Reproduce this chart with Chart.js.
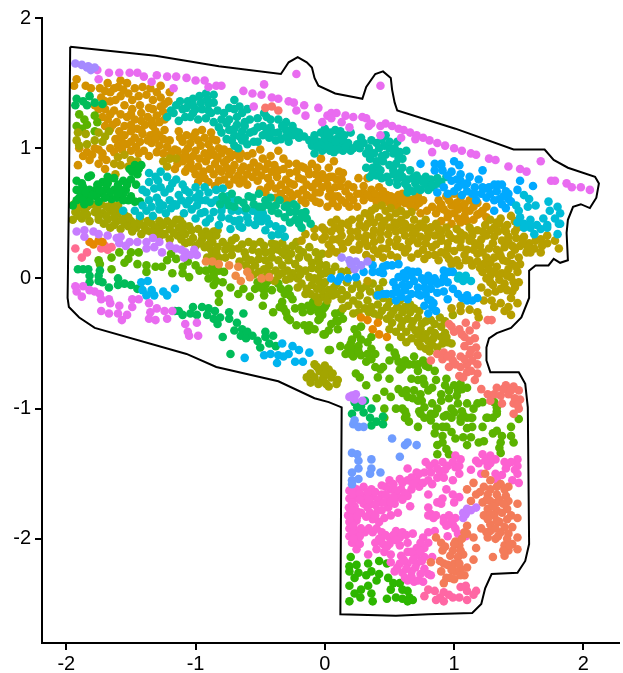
<!DOCTYPE html>
<html>
<head>
<meta charset="utf-8">
<title>clusters</title>
<style>
  body { margin: 0; background: #fff; }
  canvas { display: block; }
</style>
<script src="https://cdn.jsdelivr.net/npm/chart.js@4"></script>
</head>
<body>
<canvas id="myChart" width="623" height="673"></canvas>
<script>
var xTicks = [-2, -1, 0, 1, 2];
var yTicks = [-2, -1, 0, 1, 2];

// tissue outline
var outline = [[-1.97,1.78],[-1.31,1.71],[-.82,1.63],[-.34,1.57],[-.28,1.66],[-.21,1.7],[-.14,1.66],[-.1,1.62],[-.08,1.54],[-.05,1.48],[.08,1.42],[.24,1.39],[.29,1.38],[.32,1.47],[.39,1.57],[.45,1.59],[.51,1.54],[.52,1.45],[.54,1.35],[.56,1.29],[1.01,1.15],[1.46,.99],[1.7,.99],[1.77,.91],[1.88,.85],[2.09,.78],[2.12,.73],[2.1,.62],[2.05,.54],[1.98,.57],[1.92,.55],[1.88,.45],[1.87,.35],[1.88,.14],[1.82,.12],[1.77,.15],[1.73,.1],[1.63,.1],[1.58,.06],[1.58,-.15],[1.52,-.3],[1.44,-.38],[1.33,-.42],[1.27,-.46],[1.25,-.53],[1.25,-.63],[1.28,-.72],[1.4,-.72],[1.5,-.72],[1.55,-.81],[1.57,-.99],[1.58,-2.04],[1.55,-2.17],[1.49,-2.26],[1.29,-2.27],[1.24,-2.38],[1.21,-2.5],[1.14,-2.57],[.8,-2.58],[.55,-2.59],[.12,-2.58],[.13,-.99],[.03,-.95],[-.08,-.92],[-.36,-.79],[-.84,-.68],[-1.07,-.58],[-1.78,-.38],[-1.9,-.3],[-1.98,-.22],[-1.99,-.15],[-1.98,.6],[-1.97,1.78]];

var gold = [[-1.92,1.53],[-1.94,1.48],[-1.85,1.48],[-1.81,1.46],[-1.74,1.46],[-1.68,1.5],[-1.66,1.43],[-1.6,1.47],[-1.58,1.52],[-1.53,1.5],[-1.73,1.39],[-1.66,1.36],[-1.58,1.4],[-1.52,1.42],[-1.47,1.46],[-1.41,1.47],[-1.35,1.46],[-1.3,1.43],[-1.27,1.48],[-1.44,1.4],[-1.38,1.41],[-1.33,1.37],[-1.27,1.39],[-1.2,1.43],[-1.78,1.33],[-1.7,1.3],[-1.63,1.29],[-1.55,1.33],[-1.49,1.3],[-1.43,1.33],[-1.36,1.31],[-1.27,1.32],[-1.21,1.36],[-1.68,1.22],[-1.61,1.2],[-1.53,1.24],[-1.47,1.22],[-1.37,1.24],[-1.3,1.25],[-1.25,1.28],[-1.66,1.15],[-1.59,1.13],[-1.55,1.17],[-1.45,1.15],[-1.39,1.18],[-1.33,1.17],[-1.28,1.2],[-1.24,1.22],[-1.62,1.07],[-1.55,1.1],[-1.47,1.08],[-1.41,1.11],[-1.35,1.1],[-1.28,1.1],[-1.24,1.14],[-1.84,.97],[-1.78,1.0],[-1.72,.96],[-1.66,1.0],[-1.6,1.02],[-1.53,1.03],[-1.46,1.01],[-1.4,.98],[-1.34,1.04],[-1.28,1.02],[-1.22,1.01],[-1.16,.99],[-1.9,1.0],[-1.91,.87],[-1.82,.91],[-1.75,.88],[-1.7,.84],[-1.72,.93],
[-1.13,1.13],[-1.07,1.1],[-1.0,1.12],[-.95,1.14],[-.88,1.12],[-.84,1.06],[-1.1,1.05],[-1.04,1.04],[-.98,1.06],[-.9,1.03],[-.82,1.0],[-1.14,.98],[-1.08,.97],[-1.0,.98],[-.93,.96],[-.86,.95],[-.8,.96],[-.73,.93],[-.66,.92],[-.6,.94],[-.56,.96],[-.5,.99],[-1.16,.84],[-1.1,.9],[-1.04,.89],[-.98,.86],[-.92,.9],[-.85,.88],[-.78,.89],[-.7,.87],[-.63,.86],[-.55,.89],[-.48,.92],[-.42,.94],[-.36,.98],[-.32,.92],[-1.08,.82],[-1.0,.8],[-.94,.82],[-.86,.8],[-.8,.82],[-.74,.8],[-.67,.79],[-.6,.8],[-.53,.82],[-.46,.84],[-.39,.87],[-.32,.84],[-.28,.88],[-.98,.74],[-.9,.74],[-.82,.75],[-.74,.72],[-.66,.73],[-.6,.72],[-.52,.75],[-.44,.77],[-.37,.78],[-.3,.76],[-.22,.82],[-.17,.76],[-.12,.8],[-.05,.75],[-.5,.68],[-.44,.7],[-.38,.69],[-.3,.68],[-.24,.72],[-.17,.68],[-.1,.7],[-.04,.66],[-.38,.62],[-.31,.61],[-.25,.63],[-.18,.6],[-.1,.62],[-.04,.58],
[-.22,.88],[-.16,.85],[-.1,.88],[-.03,.92],[-.06,.85],[-.02,.8],[.03,.85],[.07,.9],[.06,.78],[.11,.82],[.02,.72],[.08,.7],[.13,.76],[.18,.72],[.03,.63],[.1,.63],[.16,.67],[.22,.7],[.02,.55],[.1,.55],[.16,.58],[.22,.6],[.28,.65],[.3,.71],[.33,.77],[.14,.81],[.26,.77],[.3,.66],[.36,.68],[.42,.7],[.36,.62],[.42,.63],[.48,.64],[.54,.62],[.6,.65],[.66,.6],[.72,.63],[.76,.6],[.5,.58],[.56,.56],[.62,.58],[.7,.55],[.3,.6],[.25,.55],[.83,.55],[.88,.6],[.94,.63],[1.0,.65],[1.05,.62],[.86,.5],[.92,.53],[.98,.56],[1.05,.55],[1.12,.6],[1.18,.58],[1.25,.55],[.95,.47],[1.0,.5],[1.08,.48],[1.12,.52],[1.2,.5],[.98,.42],[1.05,.43],[1.15,.45],[1.25,.47],[.9,.44],[.79,.52],[.74,.5],
[-1.7,1.44],[-1.63,1.46],[-1.56,1.45],[-1.49,1.37],[-1.62,1.37],[-1.7,1.36],[-1.75,1.3],[-1.66,1.26],[-1.58,1.26],[-1.5,1.26],[-1.42,1.27],[-1.33,1.3],[-1.24,1.34],[-1.72,1.24],[-1.64,1.18],[-1.5,1.18],[-1.42,1.21],[-1.34,1.21],[-1.7,1.17],[-1.58,1.08],[-1.5,1.13],[-1.42,1.14],[-1.31,1.13],[-1.56,1.04],[-1.5,1.05],[-1.43,1.05],[-1.37,1.06],[-1.31,1.07],[-1.25,1.07],[-1.2,1.06],[-1.87,.94],[-1.8,.95],[-1.75,.99],[-1.69,.91],[-1.63,.97],[-1.57,.99],[-1.5,.98],[-1.44,.96],[-1.36,.94],[-1.3,.97],[-1.25,.96],[-1.19,.96],[-1.12,.93],[-1.07,.93],[-1.02,.94],[-.97,.92],[-.9,.94],[-.83,.92],[-.76,.91],[-.7,.95],[-.65,.96],[-1.06,1.0],[-.96,1.02],[-.88,.99],[-.78,.99],[-.74,.97],[-1.12,1.08],[-.93,1.08],[-.87,1.07],[-1.02,1.09],[-1.14,.88],[-1.06,.85],[-1.02,.84],[-.96,.78],[-.89,.84],[-.82,.84],[-.76,.85],[-.72,.83],[-.65,.83],[-.58,.85],[-.51,.86],[-.44,.88],[-.41,.82],[-.36,.83],[-.27,.81],[-.93,.77],[-.85,.71],[-.78,.76],[-.7,.76],[-.63,.76],[-.56,.78],[-.49,.79],[-.42,.73],[-.34,.72],[-.27,.73],[-.2,.77],[-.14,.72],[-.07,.73],[-.46,.66],[-.34,.65],[-.27,.66],[-.21,.65],[-.14,.64],[-.07,.66],[-.02,.7],[-.28,.59],[-.15,.58],[-.07,.59],[-.18,.86],[-.13,.83],[-.07,.8],[0,.77],[.04,.78],[.09,.76],[.04,.68],[.12,.71],[.07,.63],[.13,.6],[.19,.63],[.25,.65],[.06,.58],[.19,.55],[.33,.64],[.39,.65],[.45,.67],[.51,.63],[.57,.64],[.63,.62],[.69,.61],[.4,.59],[.46,.6],[.53,.59],[.59,.6],[.66,.56],[.73,.58],[.9,.57],[.96,.6],[1.02,.58],[1.08,.57],[.89,.54],[.95,.5],[1.03,.53],[1.09,.52],[1.15,.55],[1.03,.46],[1.1,.44],[1.18,.49],[1.22,.52]];

var teal = [[-1.22,1.24],[-1.17,1.27],[-1.13,1.21],[-1.12,1.36],[-1.1,1.3],[-1.06,1.36],[-1.02,1.38],[-.97,1.4],[-.92,1.42],[-.86,1.41],[-1.0,1.3],[-1.04,1.24],[-.98,1.22],[-.95,1.3],[-.9,1.34],[-.86,1.35],[-.83,1.29],[-.88,1.27],[-.92,1.23],[-.86,1.2],[-.8,1.22],[-.74,1.22],[-.7,1.3],[-.7,1.37],[-.66,1.32],[-.64,1.27],[-.6,1.3],[-.58,1.22],[-.68,1.18],[-.74,1.14],[-.8,1.12],[-.76,1.07],[-.7,1.1],[-.64,1.13],[-.58,1.12],[-.7,1.02],[-.64,1.06],[-.6,1.03],[-.55,1.13],[-.55,1.05],[-.52,1.23],[-.47,1.27],[-.42,1.22],[-.48,1.17],[-.42,1.16],[-.36,1.22],[-.3,1.2],[-.36,1.12],[-.3,1.14],[-.25,1.17],[-.2,1.12],[-.16,1.09],[-.48,1.1],[-.43,1.08],[-.38,1.06],[-.34,1.07],[-.25,1.1],[-.2,1.08],[-.52,1.05],[-.28,1.05],[-.12,1.06],[-.08,1.1],[-.03,1.12],[-.1,1.02],[-.05,1.05],[0,1.06],[-.08,.96],[-.02,.98],[.03,1.0],[0,1.15],[.04,1.12],[.08,1.14],[.12,1.13],[0,1.08],[.05,1.07],[.1,1.08],[.15,1.1],[.2,1.12],[.02,1.02],[.06,1.02],[.12,1.03],[.18,1.04],[.07,.97],[.14,.98],[.2,.98],[.25,1.03],[.28,1.08],[.34,1.0],[.3,1.04],[.36,1.06],[.4,1.04],[.46,1.02],[.47,1.1],[.42,1.0],[.5,1.0],[.56,1.05],[.47,.95],[.53,.96],[.58,.97],[.6,.92],[.63,.98],[.35,.92],[.4,.9],[.37,.85],[.5,.87],[.55,.88],[.6,.85],[.32,.85],[.35,.78],[.4,.79],[.44,.77],[.48,.78],[.53,.8],[.56,.76],[.6,.78],[.66,.83],[.64,.76],[.64,.7],[.7,.73],[.74,.76],[.78,.78],[.68,.67],[.74,.68],[.78,.72],[.82,.76],[.87,.77],[.9,.74],[.84,.7],[.8,.68],[.94,.78],
[-1.19,1.29],[-1.15,1.33],[-1.07,1.31],[-1.02,1.33],[-.96,1.35],[-.91,1.38],[-1.08,1.24],[-1.02,1.27],[-.9,1.29],[-.78,1.27],[-.74,1.31],[-.68,1.24],[-.62,1.2],[-.76,1.19],[-.82,1.16],[-.7,1.15],[-.66,1.09],[-.62,1.08],[-.72,1.06],[-.67,1.0],[-.62,1.17],[-.45,1.24],[-.52,1.16],[-.4,1.12],[-.33,1.17],[-.27,1.13],[-.45,1.13],[-.3,1.09],[-.23,1.13],[-.08,1.06],[-.03,1.02],[-.06,1.01],[.02,1.11],[.08,1.05],[.14,1.06],[.04,.98],[.1,.99],[.16,1.01],[.22,1.0],[.27,1.0],[.32,.96],[.38,.96],[.44,.94],[.44,1.07],[.5,1.05],[.54,1.0],[.57,.92],[.41,.85],[.45,.9],[.53,.83],[.58,.81],[.43,.83],[.37,.81],[.5,.74],[.56,.72],[.62,.73],[.68,.77],[.72,.69],[.76,.74],[.83,.72],[.88,.73],[.71,.79],[.64,.66]];

var cyan = [[-1.36,.81],[-1.27,.82],[-1.29,.75],[-1.18,.73],[-1.1,.72],[-1.41,.68],[-1.32,.69],[-1.24,.66],[-1.13,.64],[-1.05,.66],[-.97,.65],[-.9,.66],[-.79,.69],[-1.36,.6],[-1.25,.56],[-1.16,.57],[-1.07,.57],[-1.43,.48],[-1.38,.52],[-1.47,.52],[-1.33,.48],[-1.23,.5],[-1.15,.56],[-1.09,.5],[-1.0,.46],[-.99,.56],[-.93,.51],[-.92,.43],[-.86,.51],[-.82,.41],[-.74,.46],[-.73,.38],[-.64,.39],[-.54,.41],[-.67,.52],[-.56,.52],[-.46,.37],[-.41,.33],[-.36,.34],[-.31,.32],[-.48,.5],[-.43,.42],[-1.56,.52],[-1.05,.6],[-.96,.6],[-.88,.58],[-.78,.56],[-.8,.62],[-.7,.6],[-.72,.52],[-1.3,.62],[-1.2,.6],[-1.34,.55],[-1.41,.56],[-.6,.47],[-.66,.45],[-.52,.46],[-.8,.47],
[-1.31,.78],[-1.22,.78],[-1.15,.76],[-1.36,.74],[-1.38,.66],[-1.27,.7],[-1.2,.69],[-1.08,.68],[-1.0,.7],[-.93,.7],[-.84,.68],[-1.28,.58],[-1.11,.6],[-1.0,.62],[-.92,.6],[-.84,.6],[-.75,.63],[-1.28,.53],[-1.19,.54],[-1.03,.53],[-.96,.5],[-.89,.46],[-.8,.52],[-.66,.4],[-.59,.43],[-.7,.44],[-.49,.44],[-.45,.46],[-.38,.4],[-.33,.38],[-.62,.52],[-.52,.5]];

var tealGreen = [[-.79,.63],[-.72,.65],[-.67,.6],[-.59,.63],[-.51,.65],[-.46,.6],[-.55,.57],[-.38,.56],[-.29,.56],[-.22,.55],[-.81,.57],[-.74,.56],[-.41,.52],[-.31,.47],[-.31,.55],[-.23,.51],[-.23,.45],[-.15,.51],[-.18,.39],[-.11,.42],[-.19,.46],[-.51,.55],[-.61,.54],[-.43,.56],[-.36,.5],[-.76,.6],[-.7,.55],[-.63,.58],[-.56,.62],[-.48,.55],[-.42,.62],[-.35,.6],[-.27,.51],[-.24,.57],[-.18,.5],[-.27,.43],[-.14,.46],[-.2,.42]];

var green = [[-1.42,.87],[-1.45,.8],[-1.51,.84],[-1.81,.79],[-1.83,.78],[-1.92,.75],[-1.56,.75],[-1.63,.77],[-1.68,.78],[-1.72,.74],[-1.76,.72],[-1.87,.7],[-1.92,.68],[-1.82,.68],[-1.69,.69],[-1.63,.68],[-1.54,.68],[-1.5,.63],[-1.43,.59],[-1.56,.65],[-1.72,.65],[-1.84,.63],[-1.77,.63],[-1.92,.6],[-1.82,.59],[-1.65,.61],[-1.47,.59],[-1.95,.56],[-1.47,.87],[-1.49,.82],[-1.88,.65],[-1.61,.62],[-1.52,.6],[-1.77,.68],[-1.88,.73],[-1.85,.66],[-1.9,.62],[-1.8,.64],[-1.74,.68],[-1.68,.73],[-1.6,.72],[-1.58,.68],[-1.66,.66],[-1.7,.62],[-1.6,.65],[-1.53,.72],[-1.5,.76],[-1.46,.72],[-1.44,.84],[-1.87,.6],[-1.75,.59],[-1.56,.6],[-1.86,.57]];

var oliveLeft = [[-1.94,.57],[-1.88,.57],[-1.8,.57],[-1.73,.57],[-1.65,.57],[-1.6,.56],[-1.93,.51],[-1.86,.52],[-1.78,.51],[-1.72,.5],[-1.66,.52],[-1.6,.5],[-1.54,.48],[-1.95,.45],[-1.88,.46],[-1.82,.44],[-1.75,.45],[-1.68,.45],[-1.61,.44],[-1.55,.42],[-1.5,.44],[-1.43,.46],[-1.66,.39],[-1.58,.38],[-1.52,.4],[-1.46,.39],[-1.4,.4],[-1.34,.42],[-1.28,.44],[-1.22,.44],[-1.15,.45],[-1.1,.42],[-1.42,.34],[-1.35,.36],[-1.28,.38],[-1.2,.38],[-1.13,.39],[-1.05,.4],[-.98,.38],[-.92,.36],[-.86,.36],[-1.28,.32],[-1.2,.3],[-1.14,.33],[-1.08,.34],[-1.02,.31],[-.95,.3],[-.88,.3],[-.84,.33],[-1.08,.27],[-1.0,.25],[-.93,.24],[-.88,.22],[-.87,.28],[-.79,.28],[-.69,.31],[-.59,.28],[-.5,.28],[-.41,.27],[-.33,.27],[-.87,.19],[-.77,.22],[-.67,.23],[-.56,.22],[-.46,.2],[-.36,.22],[-.25,.25],[-.91,.16],[-.82,.16],[-.72,.18],[-.61,.16],[-.51,.15],[-.41,.16],[-.31,.18],[-.2,.22],[-.61,.1],[-.54,.1],[-.43,.1],[-.33,.1],[-.23,.11],[-.13,.16],[-.05,.15],[-.51,.05],[-.36,.02],[-.25,.04],[-.15,.06],[-.05,.07],[.01,.09],[-.18,-.04],[-.1,-.05],[-.01,-.04],[-.15,-.12],[-.02,-.14],[.03,-.09],[-.08,0],[0,.04],[-.43,.04],[-.3,-.01],[-.21,0],
[-.04,.11],[.01,.1],[.08,.09],[.18,.06],[-.04,-.03],[-.02,-.09],[.07,-.07],[.13,-.09],[.21,-.08],[.28,-.08],[.37,-.04],[.45,-.03],[.03,-.13],[.13,-.16],[.22,-.17],[.33,-.17],[.22,-.27],[.14,-.23],[.31,-.23],[.44,-.25],[.53,-.25],[.62,-.22],[.69,-.23],[.48,-.31],[.57,-.3],[.64,-.31],[.72,-.3],[.5,-.39],[.59,-.37],[.67,-.37],[.75,-.35],[.82,-.32],[.89,-.3],[.99,-.28],[.72,-.43],[.82,-.4],[.9,-.37],[.63,-.49],[.72,-.49],[.8,-.48],[.9,-.45],[.98,-.5],[.78,-.54],[.87,-.53],[.95,-.49],[.66,-.2],[.59,-.45],[.4,-.13],[.5,-.18],[.58,-.17],[.38,-.27],
[-.04,-.71],[.03,-.7],[-.01,-.76],[.05,-.76],[.1,-.78],[.01,-.81],[.09,-.81],[-.08,-.66],[-.11,-.73],[-.04,-.71],[-.11,-.8],[-.02,-.78],[0,-.73],[-.06,-.68],[0,-.67],[-.08,-.76],[-.05,-.81],[.06,-.73],[.03,-.83],[-.14,-.76],
[-1.91,1.12],[-1.92,1.06],[-1.85,1.11],[-1.84,1.03],[-1.78,1.06],[-1.75,1.12],[-1.7,1.09],[-1.67,1.13],[-1.9,1.02],[-1.72,1.05],
[-1.91,.54],[-1.84,.55],[-1.76,.54],[-1.69,.55],[-1.63,.53],[-1.9,.48],[-1.84,.49],[-1.75,.48],[-1.69,.48],[-1.63,.47],[-1.57,.45],[-1.52,.47],[-1.47,.42],[-1.71,.42],[-1.63,.41],[-1.43,.42],[-1.37,.44],[-1.31,.39],[-1.25,.41],[-1.18,.42],[-1.12,.45],[-1.49,.36],[-1.38,.37],[-1.32,.35],[-1.24,.34],[-1.17,.35],[-1.1,.37],[-1.03,.37],[-.95,.34],[-.9,.33],[-.83,.37],[-1.11,.3],[-1.05,.28],[-.97,.27],[-.9,.26],[-.83,.24],[-.76,.25],[-.72,.29],[-.64,.26],[-.55,.26],[-.47,.25],[-.38,.26],[-.3,.23],[-.22,.28],[-.84,.2],[-.72,.23],[-.62,.2],[-.51,.2],[-.41,.21],[-.33,.2],[-.26,.19],[-.17,.2],[-.12,.24],[-.07,.2],[-.87,.14],[-.77,.16],[-.66,.13],[-.57,.14],[-.46,.14],[-.36,.14],[-.28,.14],[-.2,.16],[-.1,.12],[-.02,.19],[-.58,.07],[-.47,.07],[-.38,.06],[-.29,.06],[-.2,.07],[-.1,.08],[-.03,.03],[-.55,.03],[-.46,.01],[-.39,-.02],[-.33,.04],[-.27,0],[-.19,.03],[-.12,.01],[-.05,-.01],[-.21,-.07],[-.14,-.08],[-.06,-.08],[0,-.03],[-.11,-.12],[-.07,-.14],[-.05,-.18],[.02,-.17],[.06,-.13],[.09,-.04],[.13,.05],[.05,.05],[.17,-.03],[.25,-.04],[.32,-.06],[.42,-.08],[.09,-.12],[.17,-.13],[.27,-.13],[.35,-.1],[.45,-.15],[.18,-.21],[.26,-.2],[.36,-.22],[.41,-.2],[.48,-.22],[.56,-.22],[.26,-.26],[.34,-.26],[.42,-.29],[.51,-.28],[.6,-.26],[.66,-.26],[.73,-.25],[.52,-.34],[.6,-.33],[.68,-.33],[.74,-.39],[.78,-.33],[.85,-.35],[.93,-.33],[.55,-.41],[.63,-.41],[.7,-.4],[.78,-.43],[.85,-.42],[.93,-.42],[.67,-.46],[.76,-.46],[.84,-.46],[.94,-.45],[.74,-.52],[.83,-.51],[.91,-.5],[.81,-.56]];

var oliveDark = [[.44,.56],[.36,.52],[.51,.54],[.59,.52],[.67,.51],[.31,.5],[.21,.45],[.05,.43],[.13,.42],[.42,.47],[.5,.47],[.59,.45],[.69,.45],[.78,.45],[.33,.42],[.44,.39],[.54,.39],[.64,.39],[.72,.39],[.82,.39],[1.28,.45],[1.36,.46],[1.44,.48],[1.41,.41],[1.31,.39],[1.49,.39],[-.02,.39],[.08,.39],[.18,.41],[.31,.39],[.44,.41],[.57,.42],[.67,.39],[.82,.39],[1.18,.37],[1.28,.37],[1.39,.38],[0,.32],[.13,.33],[.26,.32],[.37,.33],[.49,.34],[.62,.33],[.74,.32],[.85,.33],[.96,.34],[1.08,.33],[1.21,.3],[1.31,.32],[1.42,.32],[1.54,.32],[1.67,.3],[.05,.23],[.13,.27],[.22,.22],[.33,.25],[.44,.23],[.59,.24],[.72,.27],[.83,.24],[.95,.27],[1.05,.24],[1.16,.27],[1.27,.23],[1.39,.24],[1.51,.25],[1.62,.23],[1.72,.27],[1.81,.23],[.03,.19],[.32,.18],[.41,.19],[.51,.18],[.67,.16],[.77,.15],[.85,.18],[.96,.15],[1.08,.18],[1.18,.19],[1.31,.16],[1.44,.18],[1.59,.2],[1.67,.2],[.98,.11],[1.14,.1],[1.23,.11],[1.33,.09],[1.45,.11],[1.51,.11],[1.28,.02],[1.37,.04],[1.49,.05],[1.22,.05],[.33,-.02],[1.21,-.07],[1.3,-.05],[1.39,-.04],[1.46,-.03],[1.5,-.03],[1.32,-.1],[1.45,-.1],[1.23,-.17],[1.31,-.22],[1.39,-.25],[1.44,-.28],[1.49,-.19],[1.42,-.22],[.98,-.23],[1.05,-.21],[1.05,-.25],[1.12,-.24],[1.18,-.26],[1.19,-.3],[-.15,.34],[-.08,.32],[0,.37],[-.18,.29],[-.02,.3],[-.08,.38],
[.06,.3],[.2,.36],[.32,.33],[.43,.35],[.55,.36],[.68,.34],[.8,.35],[.9,.36],[1.02,.38],[1.12,.39],[1.24,.41],[1.35,.42],[1.47,.44],[1.02,.3],[1.14,.33],[1.25,.33],[1.37,.29],[1.48,.31],[1.58,.27],[.18,.28],[.27,.26],[.38,.28],[.5,.28],[.65,.28],[.78,.27],[.9,.29],[1.0,.21],[1.1,.22],[1.22,.2],[1.35,.2],[1.47,.22],[1.56,.2],[.09,.2],[.9,.2],[1.02,.14],[1.28,.12],[1.38,.14],[1.12,.14],[1.27,.07],[1.42,.07],[1.35,-.01],[1.25,0],[1.44,.01],
[.39,.54],[.47,.52],[.55,.5],[.63,.49],[.35,.47],[.27,.46],[.18,.43],[.09,.45],[.46,.44],[.54,.43],[.62,.42],[.74,.42],[.86,.42],[.27,.41],[.38,.43],[.12,.37],[.05,.36],[.25,.36],[.38,.37],[.5,.39],[.6,.37],[.7,.35],[.77,.39],[.88,.38],[.94,.39],[1.33,.43],[1.4,.36],[1.47,.36],[1.34,.36],[1.22,.36],[1.14,.36],[1.05,.35],[.98,.31],[.9,.32],[.79,.31],[.68,.3],[.56,.3],[.43,.3],[.31,.29],[.2,.31],[.1,.3],[.03,.26],[.14,.23],[.26,.22],[.38,.22],[.48,.23],[.55,.25],[.64,.23],[.76,.22],[.86,.26],[.95,.23],[1.05,.29],[1.12,.29],[1.2,.25],[1.3,.27],[1.42,.28],[1.53,.28],[1.63,.29],[1.72,.33],[1.78,.29],[1.68,.25],[1.57,.24],[1.45,.25],[1.33,.22],[1.15,.22],[.36,.15],[.45,.16],[.56,.16],[.62,.2],[.72,.19],[.8,.18],[.88,.14],[.94,.18],[1.04,.1],[1.09,.14],[1.18,.13],[1.25,.16],[1.36,.17],[1.41,.13],[1.5,.16],[1.48,.09],[1.2,.08],[1.31,.05],[1.41,.02],[1.34,.03],[1.28,-.03],[1.36,-.08],[1.41,-.09],[1.26,-.11],[1.47,-.07],[1.29,-.17],[1.36,-.19],[1.44,-.15]];

var lime = [[-1.59,.2],[-1.65,.16],[-1.5,.2],[-1.52,.15],[-1.55,.12],[-1.44,.2],[-1.75,.14],[-1.74,.11],[-1.65,.07],[-1.45,.11],[-1.38,.1],[-1.38,.05],[-1.31,.09],[-1.26,.09],[-1.22,.14],[-1.19,.19],[-1.15,.15],[-1.18,.04],[-1.1,.04],[-1.1,.09],[-1.06,.13],[-1.05,.01],[-1.0,.1],[-.97,.06],[-.92,.06],[-.87,.06],[-.9,0],[-.86,-.05],[-.79,-.03],[-.82,.06],[-.82,-.12],[-.82,-.18],[-.73,-.07],[-.67,-.12],[-.63,-.08],[-.58,-.14],[-.54,-.08],[-.52,-.03],[-.46,-.05],[-.47,-.13],[-.41,-.09],[-.34,-.08],[-.28,-.08],[-.25,-.16],[-.33,-.18],[-.4,-.26],[-.32,-.23],[-.29,-.3],[-.27,-.32],[-.48,-.21],[-.23,-.23],[-.18,-.22],[-.11,-.25],[-.09,-.18],[0,-.22],[-.05,-.32],[-.02,-.28],[-.22,-.36],[-.16,-.36],[-.13,-.4],[-.08,-.39],[0,-.43],[.03,-.55],
[.01,-.2],[-.01,-.23],[-.04,-.31],[.12,-.26],[.09,-.32],[.14,-.31],[.1,-.39],[.03,-.4],[-.01,-.43],[.23,-.39],[.28,-.37],[.21,-.47],[.28,-.47],[.36,-.45],[.12,-.52],[.04,-.55],[.18,-.53],[.23,-.54],[.16,-.58],[.28,-.59],[.22,-.6],[.36,-.54],[.39,-.58],[.32,-.64],[.39,-.68],[.5,-.53],[.54,-.57],[.5,-.63],[.45,-.68],[.57,-.64],[.62,-.63],[.6,-.68],[.69,-.6],[.69,-.66],[.76,-.63],[.8,-.68],[.85,-.71],[.72,-.71],[.67,-.77],[.77,-.81],[.86,-.78],[.83,-.84],[.94,-.77],[.5,-.77],[.41,-.76],[.27,-.76],[.24,-.73],[.32,-.82],[.57,-.85],[.46,-.87],[.51,-.91],[.4,-.92],[.63,-.86],[.69,-.86],[.74,-.89],[.64,-.91],[.72,-.94],[.46,-1.0],[.55,-1.0],[.62,-1.02],[.77,-.99],[.83,-.96],[.9,-.89],[.96,-.86],[1.0,-.82],[1.05,-.81],[1.1,-.84],[1.03,-.86],[.9,-.94],[.98,-1.0],[1.03,-.96],[1.1,-.96],[1.18,-.96],[1.22,-.95],[1.31,-.95],[1.33,-1.02],[1.26,-1.07],[1.5,-1.08],[.74,-1.04],[.82,-1.04],[.94,-1.05],[1.05,-1.07],[1.13,-1.07],[.46,-1.07],[.62,-1.07],
[.6,-1.0],[.63,-1.05],[.65,-1.1],[.72,-1.14],[.73,-1.02],[.77,-1.07],[.85,-1.04],[.82,-1.09],[.86,-1.14],[.85,-1.19],[.91,-1.21],[.94,-1.14],[1.05,-1.1],[.91,-1.26],[.87,-1.28],[1.01,-1.23],[1.07,-1.22],[1.13,-1.22],[1.1,-1.28],[.94,-1.31],[.87,-1.35],[.96,-1.35],[1.19,-1.26],[1.23,-1.25],[1.3,-1.19],[1.33,-1.17],[1.37,-1.21],[1.44,-1.21],[1.46,-1.26],[1.36,-1.26],[1.35,-1.3],[1.36,-1.34],[1.44,-1.14],[1.33,-1.04],[1.33,-.99],[1.14,-1.07],[1.14,-1.14],[1.1,-1.07],[1.25,-1.07],[1.07,-1.05],
[-1.9,1.26],[-1.86,1.22],[-1.92,1.17],[-1.84,1.18],[-1.78,1.25],[-1.76,1.2],[-1.78,1.13],[-1.88,1.15],
[-.86,.02],[-.84,-.02],[-.87,.09],[-.78,.05],[-.47,-.09],[-.44,-.02],[-.5,-.07],[-.36,-.04],[-.31,-.12],[-.27,-.13],[-.35,-.22],[-.3,-.26],[-.17,-.26],[-.13,-.21],[-.07,-.22],[-.05,-.26],[-.12,-.36],[.05,-.35],[.08,-.27],[.1,-.33],[.25,-.43],[.2,-.5],[.26,-.52],[.2,-.58],[.26,-.56],[.33,-.49],[.33,-.58],[.36,-.62],[.43,-.7],[.55,-.6],[.58,-.7],[.65,-.66],[.72,-.66],[.78,-.67],[.72,-.78],[.76,-.77],[.6,-.88],[.68,-.92],[.75,-.94],[.8,-.86],[.93,-.82],[.96,-.92],[1.02,-.9],[1.06,-.85],[1.0,-1.03],[1.06,-1.02],[1.15,-1.0],[.87,-1.0],[.92,-1.06],[.98,-1.07],[.98,-1.18],[1.1,-1.15],[.91,-1.14],[1.22,-1.14],[1.3,-1.07]];

var blue = [[.05,0],[.12,.01],[.18,0],[.24,.01],[.3,.05],[.37,.1],[.42,.05],[.37,.05],[.48,.1],[.57,.11],[.64,.06],[.57,.01],[.72,.05],[.8,.02],[.85,0],[.92,.01],[.92,.06],[.99,.05],[.69,-.02],[.62,0],[.82,-.03],[.9,-.03],[.41,-.13],[.48,-.12],[.55,-.07],[.62,-.09],[.72,-.12],[.82,-.08],[.87,-.11],[.99,-.08],[1.03,-.12],[.55,-.17],[.64,-.16],[.74,-.13],[.82,-.17],[.95,-.16],[1.1,-.13],[1.1,-.17],[1.18,-.15],[.77,-.21],[.83,-.22],[.8,-.27],[.86,-.25],[.53,-.03],[.77,-.02],[.72,-.07],[.59,-.14],[.96,.05],[.67,.02],
[.74,.88],[.85,.88],[.9,.87],[.85,.83],[.91,.83],[1.0,.9],[1.04,.87],[.98,.82],[1.05,.8],[1.22,.83],[.98,.75],[1.05,.75],[1.12,.78],[1.19,.76],[.92,.7],[.87,.66],[.95,.65],[1.03,.7],[1.1,.73],[1.16,.7],[1.1,.67],[1.21,.65],[1.17,.6],[1.24,.69],[1.31,.72],[1.37,.72],[1.28,.65],[1.33,.67],[1.4,.67],[1.35,.61],[1.42,.61],[1.31,.52],[1.4,.54],[1.49,.68],[1.51,.75],[1.61,.71],[1.44,.59],[1.37,.57],
[.1,-.02],[.45,.09],[.52,.1],[.45,.04],[.61,.04],[.68,.05],[.75,0],[.6,-.05],[.65,-.05],[.77,-.07],[.87,-.04],[.95,-.03],[.45,-.12],[.52,-.12],[.57,-.11],[.67,-.12],[.78,-.12],[.92,-.1],[.8,-.16],[1.06,-.15],[1.14,-.17],[.84,-.19],[.9,.88],[.95,.79],[1.02,.76],[1.08,.72],[1.0,.67],[1.06,.64],[1.14,.65],[1.22,.7],[1.27,.7],[1.34,.72],[1.31,.6],[1.25,.62],[1.38,.63],[1.42,.65],[1.16,.65]];

var sky = [[-1.42,-.03],[-1.37,-.02],[-1.41,-.09],[-1.34,-.09],[-1.32,-.13],[-1.38,-.13],[-1.25,-.1],[-1.22,-.13],[-1.16,-.08],[-.62,-.61],[-.47,-.59],[-.42,-.58],[-.33,-.5],[-.25,-.52],[-.2,-.55],[-.12,-.57],[-.37,-.65],[-.32,-.6],[-.28,-.58],[-.23,-.64],[-.17,-.64],[-.36,-.59]];

var cyanRight = [[1.48,.56],[1.54,.64],[1.58,.61],[1.63,.56],[1.5,.52],[1.57,.55],[1.51,.47],[1.59,.45],[1.54,.42],[1.64,.41],[1.72,.41],[1.73,.59],[1.8,.55],[1.82,.5],[1.74,.52],[1.78,.46],[1.82,.42],[1.59,.39],[1.69,.46],[1.49,.43],[1.59,.41],[1.67,.38],[1.62,.34],[1.72,.39],[1.8,.34],[1.54,.39],[1.81,.42],[1.04,.02],[1.09,.02],[1.07,-.02],[1.13,-.02],[1.03,0]];

var green2 = [[-1.91,.07],[-1.87,.07],[-1.83,.07],[-1.82,.02],[-1.74,.06],[-1.75,.02],[-1.82,-.03],[-1.75,-.02],[-1.72,-.03],[-1.67,-.07],[-1.6,0],[-1.6,-.05],[-1.55,-.04],[-1.5,-.05],[-1.45,-.08],[-1.13,-.25],[-1.1,-.28],[-1.16,-.25],[-1.02,-.22],[-1.04,-.27],[-.99,-.28],[-.95,-.22],[-.9,-.23],[-.85,-.25],[-.91,-.28],[-.86,-.31],[-.81,-.3],[-.83,-.35],[-.74,-.26],[-.74,-.31],[-.63,-.27],[-.79,-.45],[-.7,-.4],[-.68,-.34],[-.64,-.39],[-.65,-.44],[-.6,-.41],[-.61,-.46],[-.56,-.44],[-.52,-.48],[-.46,-.41],[-.4,-.44],[-.5,-.53],[-.43,-.5],[-.38,-.52],[-.46,-.45],[-.73,-.58],
[.21,-1.04],[.25,-.99],[.28,-.98],[.3,-1.03],[.36,-1],[.35,-1.07],[.36,-1.13],[.4,-1.1],[.45,-1.12],[.45,-1.06],[.23,-.95],[.31,-.94],
[-1.92,1.38],[-1.87,1.36],[-1.82,1.4],[-1.78,1.35],[-1.72,1.34],[-1.84,1.33],[-1.93,1.33]];

var periwinkle = [[.52,-1.23],[.64,-1.26],[.62,-1.28],[.71,-1.28],[.58,-1.37],[.21,-1.34],[.25,-1.35],[.26,-1.4],[.36,-1.39],[.36,-1.46],[.35,-1.5],[.43,-1.49],[.26,-1.46],[.21,-1.49],[.21,-1.55],[.26,-1.54],[.21,-1.58],[.22,-1.12],[.26,-1.14],[.3,-1.14],[.23,-1.09]];

var violet = [[.13,.16],[.19,.14],[.24,.13],[.28,.1],[.23,.07],[.33,.13],[.2,.11],[-1.93,1.65],[-1.88,1.64],[-1.84,1.62],[-1.81,1.6],[-1.78,1.62],[-1.83,1.63]];

var purple = [[-1.92,.36],[-1.86,.37],[-1.79,.36],[-1.86,.32],[-1.75,.34],[-1.68,.33],[-1.61,.31],[-1.58,.32],[-1.59,.27],[-1.51,.28],[-1.45,.28],[-1.54,.25],[-1.38,.28],[-1.33,.31],[-1.28,.28],[-1.38,.23],[-1.32,.24],[-1.26,.2],[-1.2,.25],[-1.15,.23],[-1.11,.22],[-1.08,.2],[-1.01,.22],[-.99,.18],[-1.09,.16],[-1.04,.18],[.21,-.9],[.24,-.89],[.23,-.93],[.29,-.94],[.19,-.91],[1.17,-1.76],[1.13,-1.78],[1.09,-1.81],[1.07,-1.84],[1.07,-1.8],[1.1,-1.77]];

var magenta = [[-1.76,1.6],[-1.67,1.58],[-1.59,1.58],[-1.51,1.58],[-1.45,1.58],[-1.4,1.55],[-1.75,1.53],[-1.3,1.56],[-1.34,1.51],[-1.22,1.55],[-1.15,1.55],[-1.17,1.46],[-1.07,1.54],[-1.0,1.52],[-.93,1.52],[-.9,1.47],[-.84,1.48],[-.8,1.48],[-.63,1.44],[-.56,1.42],[-.49,1.41],[-.41,1.39],[-.36,1.38],[-.55,1.32],[-.47,1.49],[-.22,1.57],[-.28,1.36],[-.24,1.35],[-.22,1.29],[-.15,1.25],[-.16,1.33],[-.05,1.31],[-.02,1.2],[.02,1.25],[.43,1.48],[.05,1.27],[.09,1.27],[.05,1.23],[.16,1.25],[.22,1.24],[.29,1.24],[.32,1.23],[.13,1.2],[.19,1.16],[.34,1.17],[.36,1.19],[.43,1.17],[.47,1.19],[.52,1.17],[.57,1.15],[.61,1.14],[.66,1.12],[.43,1.1],[.59,1.08],[.71,1.1],[.7,1.07],[.76,1.08],[.81,1.06],[.87,1.04],[.93,1.02],[1.0,1.0],[1.06,.98],[1.13,.96],[1.17,.95],[.83,.97],[1.27,.92],[1.32,.91],[1.42,.86],[1.51,.84],[1.56,.82],[1.67,.9],[1.75,.75],[1.78,.75],[1.87,.73],[1.91,.7],[1.98,.7],[2.05,.68],
[-1.93,-.06],[-1.87,-.06],[-1.92,-.1],[-1.82,-.09],[-1.78,-.1],[-1.88,-.14],[-1.74,-.12],[-1.73,-.16],[-1.67,-.16],[-1.66,-.19],[-1.49,-.16],[-1.44,-.16],[-1.49,-.22],[-1.59,-.21],[-1.73,-.25],[-1.67,-.27],[-1.6,-.27],[-1.53,-.28],[-1.57,-.32],[-1.36,-.19],[-1.3,-.23],[-1.24,-.25],[-1.35,-.26],[-1.36,-.31],[-1.31,-.32],[-1.22,-.31],[-1.18,-.25],[-1.08,-.35],[-.99,-.34],[-1.06,-.41],[-1.05,-.44],[-.98,-.44]];

var pink = [[.19,-1.63],[.245,-1.62],[.3,-1.6],[.36,-1.62],[.44,-1.59],[.5,-1.55],[.58,-1.54],[.64,-1.46],[.71,-1.49],[.78,-1.41],[.85,-1.42],[.91,-1.41],[1.01,-1.36],[1.05,-1.39],[.77,-1.49],[.82,-1.49],[.89,-1.48],[.95,-1.44],[1.01,-1.45],[.87,-1.53],[.92,-1.53],[.99,-1.55],[1.04,-1.5],[.71,-1.55],[.64,-1.55],[.8,-1.55],[.83,-1.58],[.73,-1.6],[.67,-1.62],[.59,-1.62],[.51,-1.62],[.44,-1.66],[.37,-1.67],[.31,-1.67],[.245,-1.68],[.19,-1.69],[.64,-1.67],[.57,-1.68],[.5,-1.69],[.8,-1.66],[.44,-1.72],[.36,-1.73],[.3,-1.73],[.23,-1.75],[.186,-1.76],[.54,-1.73],[.49,-1.76],[.41,-1.78],[.35,-1.8],[.28,-1.8],[.22,-1.81],[.18,-1.82],[.565,-1.8],[.46,-1.84],[.37,-1.85],[.245,-1.86],[.19,-1.87],[.42,-1.87],[.19,-1.92],[.245,-1.94],[.31,-1.95],[.37,-1.95],[.44,-1.95],[.19,-1.98],[.245,-2.03],[.21,-2.03],[.27,-2.04],[.245,-2.08],[.55,-1.94],[.6,-1.95],[.68,-1.96],[.85,-1.94],[.44,-1.99],[.5,-1.99],[.58,-1.99],[.64,-2.03],[.39,-2.03],[.45,-2.04],[.5,-2.04],[.58,-2.05],[.4,-2.08],[.335,-2.12],[.46,-2.1],[.51,-2.12],[.66,-1.75],[.8,-1.76],[.82,-1.81],[.8,-1.82],[.86,-1.82],[.92,-1.84],[.91,-1.69],[.87,-1.72],[.94,-1.62],[.9,-1.73],[.99,-1.66],[1.04,-1.68],[1,-1.72],[.96,-1.82],[1.01,-1.84],[.92,-1.87],[.99,-1.89],[1.01,-1.92],[.95,-1.98],[1.03,-1.96],[1.09,-1.98],[.8,-1.95],[.76,-1.99],[.8,-2.03],[.77,-2.07],[.71,-2.07],[.64,-2.1],[.59,-2.13],[.71,-2.13],[.77,-2.14],[.83,-2.14],[.51,-2.18],[.58,-2.19],[.64,-2.19],[.71,-2.19],[.54,-2.25],[.6,-2.26],[.67,-2.25],[.77,-2.23],[.8,-2.27],[.64,-2.32],[.69,-2.33],[.76,-2.33],[.82,-2.28],[.62,-2.3],[1.17,-1.4],[1.22,-1.35],[1.28,-1.36],[1.32,-1.39],[1.19,-1.42],[1.28,-1.42],[1.13,-1.47],[1.21,-1.5],[1.26,-1.44],[1.39,-1.41],[1.49,-1.39],[1.44,-1.41],[1.4,-1.46],[1.49,-1.44],[1.37,-1.51],[1.49,-1.5],[1.45,-1.55],[1.5,-1.57],[1.32,-1.5],[1.33,-1.55],
[.22,-1.65],[.27,-1.65],[.33,-1.64],[.39,-1.64],[.47,-1.6],[.53,-1.58],[.6,-1.57],[.67,-1.53],[.73,-1.5],[.81,-1.44],[.87,-1.46],[.93,-1.47],[.99,-1.41],[1.04,-1.44],[.55,-1.63],[.62,-1.65],[.68,-1.58],[.76,-1.57],[.47,-1.66],[.41,-1.7],[.34,-1.7],[.27,-1.7],[.21,-1.72],[.33,-1.76],[.25,-1.79],[.39,-1.74],[.46,-1.72],[.51,-1.72],[.44,-1.78],[.53,-1.68],[.6,-1.7],[.2,-1.78],[.2,-1.84],[.25,-1.83],[.32,-1.83],[.39,-1.82],[.51,-1.82],[.22,-1.9],[.22,-1.96],[.28,-1.92],[.34,-1.92],[.4,-1.92],[.27,-1.98],[.22,-2.0],[.47,-1.97],[.53,-1.97],[.63,-1.97],[.42,-2.0],[.48,-2.06],[.55,-2.01],[.74,-2.03],[.67,-2.1],[.74,-2.1],[.61,-2.16],[.68,-2.16],[.75,-2.17],[.56,-2.22],[.63,-2.23],[.7,-2.22],[.74,-2.27],[.67,-2.29],[.72,-2.32],[.84,-1.84],[.94,-1.9],[.98,-1.86],[1.27,-1.39],[1.24,-1.4],[1.41,-1.43],[1.47,-1.47]];

var coral = [[1.24,-1.5],[1.28,-1.55],[1.15,-1.57],[1.1,-1.62],[1.17,-1.66],[1.23,-1.6],[1.28,-1.62],[1.36,-1.58],[1.42,-1.6],[1.33,-1.66],[1.4,-1.67],[1.13,-1.71],[1.22,-1.72],[1.28,-1.71],[1.33,-1.72],[1.42,-1.71],[1.49,-1.73],[1.26,-1.77],[1.33,-1.78],[1.41,-1.77],[1.23,-1.82],[1.31,-1.82],[1.44,-1.82],[1.49,-1.84],[1.28,-1.89],[1.35,-1.87],[1.45,-1.91],[1.21,-1.92],[1.28,-1.94],[1.36,-1.95],[1.42,-1.96],[1.49,-1.99],[1.26,-1.99],[1.32,-2.0],[1.45,-2.04],[1.39,-2.05],[1.49,-2.08],[1.42,-2.09],[1.39,-2.13],[1.3,-2.14],[1.15,-1.99],[1.17,-2.07],[.86,-1.99],[.9,-2.03],[1.01,-2.02],[1.1,-1.9],[1.08,-1.95],[1.04,-2.05],[.99,-2.09],[.91,-2.09],[1.07,-2.12],[1.15,-2.16],[.89,-2.17],[.82,-2.18],[.92,-2.19],[1,-2.19],[1.1,-2.22],[1.05,-2.23],[.9,-2.25],[.94,-2.3],[1.01,-2.25],[1,-2.31],[1.08,-2.28],[.92,-2.34],
[1.33,-1.6],[1.39,-1.62],[1.2,-1.64],[1.26,-1.66],[1.35,-1.7],[1.38,-1.73],[1.25,-1.7],[1.3,-1.75],[1.37,-1.8],[1.28,-1.81],[1.26,-1.85],[1.33,-1.86],[1.41,-1.85],[1.32,-1.92],[1.39,-1.91],[1.25,-1.95],[1.34,-1.98],[1.41,-2.0],[1.38,-2.09],[1.43,-2.05],[.93,-2.06],[1,-2.04],[1.06,-2.0],[1.05,-2.09],[.97,-2.13],[1.03,-2.14],[.95,-2.2],[.98,-2.24],[1.04,-2.19],[1.05,-2.28],[.97,-2.3],[1.1,-1.96]];

var hotPink = [[.77,-2.44],[.8,-2.39],[.85,-2.4],[.89,-2.45],[.92,-2.41],[.99,-2.45],[1.05,-2.37],[1.1,-2.4],[1.17,-2.4],[1.04,-2.45],[1.1,-2.47],[1.15,-2.43],[.86,-2.47],[.92,-2.48],[.96,-2.43],[1.09,-2.36]];

var leafGreen = [[.2,-2.14],[.19,-2.21],[.245,-2.2],[.19,-2.25],[.26,-2.26],[.23,-2.3],[.335,-2.19],[.42,-2.17],[.48,-2.19],[.36,-2.25],[.32,-2.28],[.42,-2.27],[.4,-2.32],[.335,-2.36],[.28,-2.39],[.19,-2.36],[.23,-2.42],[.275,-2.45],[.19,-2.48],[.36,-2.42],[.37,-2.48],[.49,-2.3],[.53,-2.34],[.58,-2.34],[.51,-2.39],[.6,-2.39],[.64,-2.4],[.48,-2.46],[.55,-2.45],[.6,-2.46],[.655,-2.45],[.68,-2.47],[.64,-2.48]];

var salmon = [[.96,-.35],[1.04,-.39],[1.09,-.34],[1.17,-.36],[1.12,-.4],[1.26,-.32],[1.29,-.32],[1.08,-.45],[1.16,-.46],[1.17,-.53],[1.08,-.52],[.98,-.58],[.87,-.58],[.92,-.57],[.82,-.63],[.91,-.62],[.99,-.63],[1.05,-.6],[1.12,-.58],[1.18,-.59],[.96,-.68],[1.05,-.68],[1.1,-.66],[1.18,-.66],[1.04,-.75],[1.1,-.72],[1.18,-.73],[1.16,-.78],[1.21,-.85],[1.26,-.89],[1.28,-.94],[1.33,-.84],[1.4,-.82],[1.46,-.83],[1.5,-.86],[1.36,-.9],[1.42,-.89],[1.51,-.93],[1.37,-.96],[1.46,-.96],[1.5,-1.0],[1.46,-1.04],[.98,-.37],[-.46,1.31],[-.41,1.32],[-.36,1.29],[1.0,-.41],[1.06,-.43],[1.12,-.48],[1.13,-.55],[.95,-.6],[1.01,-.66],[1.08,-.62],[1.14,-.63],[1.13,-.71],[1.07,-.76],[1.38,-.85],[1.44,-.86],[1.47,-.92],[1.31,-.89],[1.49,-.97]];

var orange = [[.28,-.3],[.33,-.32],[.41,-.34],[.37,-.39],[.42,-.43],[.48,-.45],[-1.82,.28],[-1.75,.29],[-1.72,.28],[-1.79,.26]];

var coralLeft = [[-.92,.13],[-.82,.11],[-.74,.1],[-.67,.09],[-.69,.02],[-.65,-.02],[-.58,.01],[-.49,0],[-.43,.01],[-.87,.13],[-.6,.05]];

var rose = [[-1.93,.23],[-1.88,.16],[-1.84,.2],[-1.73,.23],[-1.68,.22],[-1.65,.24],[-1.7,.25]];

var patches = [[-1.6,.93],[-1.55,.95],[-1.5,.91],[-1.58,.87],[-1.52,.86],[-1.45,.9],[-1.63,.88],[-1.25,.9],[-1.2,.92],[-1.15,.92],[-1.22,.86],[-1.62,.8],[-1.67,.76]];

// first dataset ends up on top
var groups = [
  [outline, "#000000"],
  [violet, "#A58AFF"], [purple, "#C77CFF"], [periwinkle, "#6F9CFF"], [orange, "#E58700"], [coralLeft, "#EF8A45"],
  [rose, "#FF6C91"], [salmon, "#F8766D"], [magenta, "#E96CF0"], [hotPink, "#FF67A4"], [coral, "#F37B59"], [pink, "#FD61D1"],
  [leafGreen, "#2DB600"], [sky, "#00B4EF"], [cyanRight, "#00BCD8"], [blue, "#00A9FF"], [green2, "#00BC59"], [tealGreen, "#00C08B"],
  [cyan, "#00BFC4"], [green, "#00BA38"], [teal, "#00BFA5"], [patches, "#B79F00"], [oliveDark, "#B79F00"], [oliveLeft, "#A3A500"],
  [lime, "#5BB300"], [gold, "#D39200"]
];

var datasets = [];
for (var i = 0; i < groups.length; i++) {
  var isLine = groups[i][0] === outline;
  datasets.push({
    data: groups[i][0].map(function (p) { return { x: p[0], y: p[1] }; }),
    showLine: isLine,
    borderColor: groups[i][1],
    backgroundColor: groups[i][1],
    borderWidth: isLine ? 2 : 0,
    pointRadius: isLine ? 0 : 4.3,
    pointBorderWidth: 0,
  });
}

var axisFont = { family: "'Liberation Sans', Arial, sans-serif", size: 20 };

var ctx = document.getElementById("myChart").getContext("2d");
var myChart = new Chart(ctx, {
  type: "scatter",
  data: { datasets: datasets },
  options: {
    responsive: false,
    animation: false,
    devicePixelRatio: 1,
    layout: { padding: { top: 18, right: 1, left: 0, bottom: 0 } },
    plugins: { legend: { display: false }, tooltip: { enabled: false } },
    scales: {
      x: {
        min: -2.188,
        max: 2.273,
        afterBuildTicks: function (s) { s.ticks = xTicks.map(function (v) { return { value: v }; }); },
        afterFit: function (s) { s.height = 30; },
        border: { color: "#000", width: 2 },
        grid: { drawOnChartArea: false, color: "#000", lineWidth: 2, tickLength: 7 },
        ticks: { color: "#000", font: axisFont, padding: 2, maxRotation: 0, autoSkip: false, callback: function (v) { return String(v); } },
      },
      y: {
        min: -2.8,
        max: 2,
        afterBuildTicks: function (s) { s.ticks = yTicks.map(function (v) { return { value: v }; }); },
        afterFit: function (s) { s.width = 42; },
        border: { color: "#000", width: 2 },
        grid: { drawOnChartArea: false, color: "#000", lineWidth: 2, tickLength: 7 },
        ticks: { color: "#000", font: axisFont, padding: 4, autoSkip: false, callback: function (v) { return String(v); } },
      },
    },
  },
});
</script>
</body>
</html>
